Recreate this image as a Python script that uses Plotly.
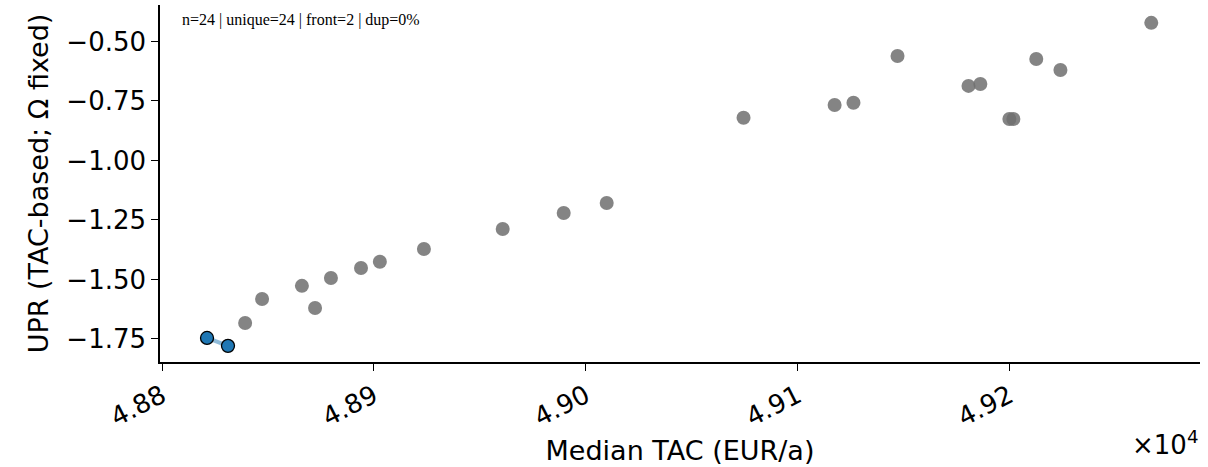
import plotly.graph_objects as go

# data
tac_all = [48839.2, 48847.2, 48866.0, 48872.2, 48879.7, 48893.9, 48902.8, 48923.6,
           48960.8, 48989.6, 49009.9, 49074.5, 49117.5, 49126.4, 49147.2, 49180.7,
           49186.3, 49200.0, 49201.9, 49212.7, 49224.1, 49267.0]
upr_all = [-1.683, -1.582, -1.527, -1.620, -1.494, -1.452, -1.426, -1.372,
           -1.288, -1.221, -1.179, -0.821, -0.767, -0.758, -0.561, -0.687,
           -0.679, -0.826, -0.826, -0.574, -0.620, -0.422]
tac_front = [48821.2, 48831.1]
upr_front = [-1.746, -1.779]
x_tickvals = [48800, 48900, 49000, 49100, 49200]
x_ticktext = ["4.88", "4.89", "4.90", "4.91", "4.92"]
y_tickvals = [-0.5, -0.75, -1.0, -1.25, -1.5, -1.75]
annotation_text = "n=24 | unique=24 | front=2 | dup=0%"

fig = go.Figure()
fig.add_trace(go.Scatter(x=tac_all, y=upr_all, mode="markers",
                         marker=dict(size=14, color="rgba(110,110,110,0.85)", line=dict(width=0)),
                         showlegend=False))
fig.add_trace(go.Scatter(x=tac_front, y=upr_front, mode="lines",
                         line=dict(color="rgba(31,119,180,0.5)", width=4),
                         showlegend=False))
fig.add_trace(go.Scatter(x=tac_front, y=upr_front, mode="markers",
                         marker=dict(size=13, color="#1f77b4", line=dict(width=1.3, color="black")),
                         showlegend=False))

fig.update_layout(
    width=1208, height=467,
    margin=dict(l=160, r=8, t=5, b=105),
    plot_bgcolor="white", paper_bgcolor="white",
    font=dict(family="DejaVu Sans", size=26, color="black"),
    xaxis=dict(range=[48799, 49290], tickvals=x_tickvals, ticktext=x_ticktext,
               tickangle=-27, showgrid=False, zeroline=False, automargin=False,
               showline=True, linecolor="black", linewidth=1.5,
               ticks="outside", ticklen=7, tickwidth=1.3, tickcolor="black",
               tickfont=dict(size=26),
               title=dict(text="Median TAC (EUR/a)", font=dict(size=27), standoff=10)),
    yaxis=dict(range=[-1.847, -0.347], tickvals=y_tickvals, tickformat=".2f",
               showgrid=False, zeroline=False, automargin=False,
               showline=True, linecolor="black", linewidth=1.5,
               ticks="outside", ticklen=7, tickwidth=1.3, tickcolor="black",
               tickfont=dict(size=26),
               title=dict(text="UPR (TAC-based; Ω fixed)", font=dict(size=27), standoff=10)),
)
fig.add_annotation(x=0.019, y=0.99, xref="paper", yref="paper", xanchor="left", yanchor="top",
                   text=annotation_text, showarrow=False,
                   font=dict(family="Liberation Serif", size=16, color="black"))
fig.add_annotation(x=1.0, y=-0.175, xref="paper", yref="paper", xanchor="right", yanchor="top",
                   text="×10<sup>4</sup>", showarrow=False,
                   font=dict(family="DejaVu Sans", size=26, color="black"))

fig.write_html("out.html", config={"displayModeBar": False},
               post_script="document.body.style.margin='0px';")
